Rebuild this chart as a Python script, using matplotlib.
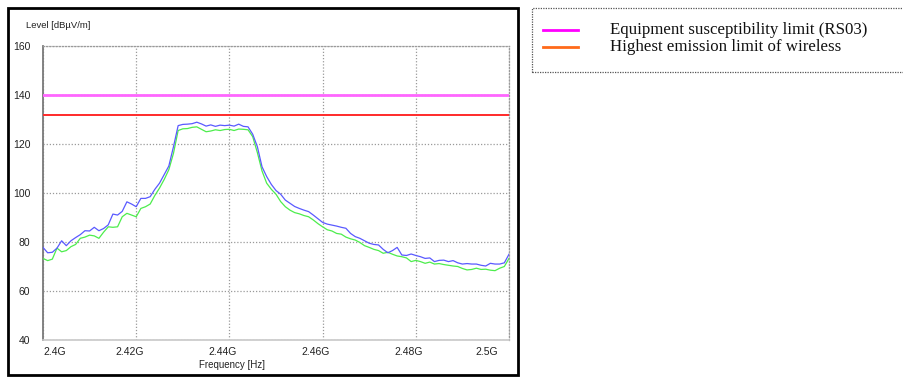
import matplotlib
matplotlib.use("Agg")
import matplotlib.pyplot as plt
import matplotlib.transforms as mtransforms
from matplotlib.patches import Rectangle
from matplotlib.lines import Line2D
import numpy as np

# ---- data (GHz, dBuV/m) ----
sweep_start_ghz = 2.400
sweep_stop_ghz = 2.500
level_blue = [77.8, 75.6, 75.8, 77.5, 80.5, 78.5, 80.5, 81.8, 83.0, 84.6,
              84.5, 86.0, 84.6, 85.5, 87.0, 91.4, 91.0, 92.5, 96.4, 95.5,
              94.4, 97.8, 97.8, 98.5, 101.5, 104.0, 107.5, 111.0, 118.9, 127.5,
              128.0, 128.1, 128.3, 128.9, 128.2, 127.3, 127.8, 127.2, 127.7, 127.5,
              127.7, 127.3, 128.1, 127.2, 127.0, 124.0, 118.9, 110.7, 106.7, 103.5,
              101.0, 99.5, 97.1, 95.8, 94.5, 93.7, 93.0, 92.4, 91.0, 89.5,
              88.0, 87.3, 86.9, 86.5, 86.0, 85.6, 83.5, 82.2, 81.5, 80.5,
              79.5, 79.0, 78.8, 77.0, 75.6, 76.5, 77.8, 74.7, 74.5, 75.1,
              74.5, 74.0, 73.3, 73.5, 72.0, 72.5, 72.6, 72.0, 72.4, 71.5,
              71.0, 71.2, 71.0, 71.0, 70.5, 70.2, 71.3, 71.0, 71.0, 71.5,
              75.0]
level_green = [73.3, 72.4, 73.0, 77.5, 76.0, 76.5, 78.1, 79.0, 81.5, 82.0,
               82.8, 82.5, 81.5, 84.0, 86.2, 86.0, 86.2, 90.3, 91.7, 91.0,
               90.3, 93.7, 94.4, 95.5, 99.0, 102.0, 105.5, 109.5, 116.2, 125.5,
               126.2, 126.3, 126.8, 127.0, 126.0, 125.0, 125.3, 125.8, 125.5, 125.9,
               126.0, 125.5, 126.1, 126.0, 125.8, 123.0, 116.5, 109.0, 104.0, 101.5,
               99.5, 96.5, 94.4, 93.0, 92.0, 91.5, 90.8, 90.3, 89.0, 87.5,
               86.2, 85.0, 84.5, 83.5, 83.2, 82.0, 81.3, 80.8, 79.8, 78.5,
               77.8, 77.0, 76.5, 75.4, 75.8, 75.0, 74.3, 74.0, 73.5, 72.0,
               72.5, 72.0, 71.3, 71.8, 71.0, 71.2, 70.8, 70.5, 70.2, 70.0,
               69.2, 68.6, 68.8, 69.3, 68.8, 68.9, 68.5, 68.3, 69.3, 70.0,
               73.3]
susceptibility_limit = 140
emission_limit = 132
x_ticks = [2.40, 2.42, 2.44, 2.46, 2.48, 2.50]
x_tick_labels = ["2.4G", "2.42G", "2.44G", "2.46G", "2.48G", "2.5G"]
y_ticks = [40, 60, 80, 100, 120, 140, 160]
legend_labels = ["Equipment susceptibility limit (RS03)",
                 "Highest emission limit of wireless"]

# sweep frequency points (one per trace sample)
freq_ghz = np.linspace(sweep_start_ghz, sweep_stop_ghz, len(level_blue))

W, H = 904, 378
fig = plt.figure(figsize=(W / 100, H / 100), dpi=100)
fig.patch.set_facecolor("white")

def fx(px):
    return px / W

def fy(py):
    return 1 - py / H

ax = fig.add_axes([fx(43), fy(340), fx(509) - fx(43), fy(46) - fy(340)])
ax.set_xlim(2.40, 2.50)
ax.set_ylim(40, 160)

ax.plot(freq_ghz, level_green, color="#4ded4d", lw=0.9, zorder=3)
ax.plot(freq_ghz, level_blue, color="#5a5aff", lw=0.9, zorder=4)
ax.axhline(susceptibility_limit, color="#ff66ff", lw=2.0, zorder=5)
ax.axhline(emission_limit, color="#ff2a2a", lw=1.4, zorder=5)

ax.set_xticks(x_ticks)
ax.set_xticklabels(x_tick_labels)
ax.set_yticks(y_ticks)
ax.tick_params(length=0, labelsize=7.5, colors="#222222")
ax.tick_params(axis="y", pad=9)
ax.tick_params(axis="x", pad=5)
for lab in ax.get_xticklabels() + ax.get_yticklabels():
    lab.set_family("Liberation Sans")

# shift x tick labels
xlabs = ax.get_xticklabels()
for i, lab in enumerate(xlabs):
    if i == 0:
        lab.set_ha("left")
        off = 0
    elif i == len(xlabs) - 1:
        lab.set_ha("right")
        off = -11
    else:
        off = -7
    lab.set_transform(lab.get_transform() + mtransforms.ScaledTranslation(off / 100, 0, fig.dpi_scale_trans))

ax.grid(True, color="#9a9a9a", linestyle=(0, (1, 1.5)), lw=0.9)
ax.set_axisbelow(True)
ax.spines["left"].set_color("#7a7a7a")
ax.spines["left"].set_linewidth(1.3)
ax.spines["bottom"].set_color("#c8c8c8")
ax.spines["bottom"].set_linewidth(1.2)
for s in ["top", "right"]:
    ax.spines[s].set_color("#9a9a9a")
    ax.spines[s].set_linestyle((0, (1, 1.5)))
    ax.spines[s].set_linewidth(0.9)

fig.text(fx(26), fy(25), "Level [dBµV/m]", fontsize=6.8, family="Liberation Sans",
         ha="left", va="center", color="#222222")
fig.text(fx(232), fy(365), "Frequency [Hz]", fontsize=7, family="Liberation Sans",
         ha="center", va="center", color="#222222")

# outer frame
fig.add_artist(Rectangle((fx(8), fy(375)), fx(518) - fx(8), fy(8) - fy(375),
                         transform=fig.transFigure, fill=False, ec="black", lw=2.0))

# legend box
fig.add_artist(Rectangle((fx(532), fy(72)), fx(910) - fx(532), fy(8) - fy(72),
                         transform=fig.transFigure, fill=False, ec="#555555",
                         lw=0.9, linestyle=(0, (1, 1))))
legend_colors = ["#ff00ff", "#ff6a1a"]
legend_y = [30, 47]
for c, yy, txt in zip(legend_colors, legend_y, legend_labels):
    fig.add_artist(Line2D([fx(543), fx(578)], [fy(yy), fy(yy)],
                          transform=fig.transFigure, color=c, lw=2.0))
    fig.text(fx(610), fy(yy), txt, fontsize=12.2, family="Liberation Serif",
             ha="left", va="center", color="#111111")

fig.savefig("out.png", dpi=100)
